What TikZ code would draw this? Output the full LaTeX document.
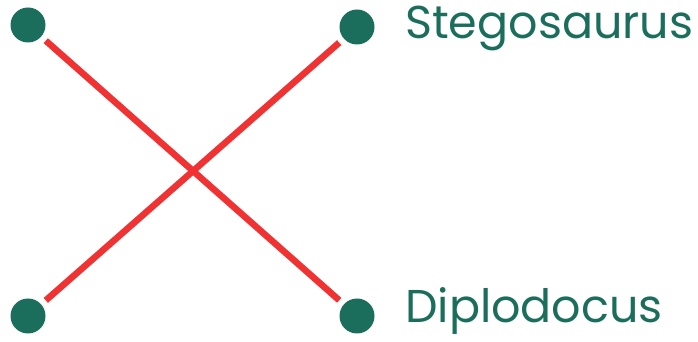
\documentclass[tikz,border=0pt]{standalone}
\usepackage{fontspec}
\setmainfont{Poppins}
\definecolor{dotgreen}{RGB}{28,110,92}
\definecolor{linered}{RGB}{240,50,50}
\begin{document}
\begin{tikzpicture}[x=1pt,y=1pt,
  dotnode/.style={circle,fill=dotgreen,draw=none,minimum size=35pt,inner sep=0pt},
  link/.style={linered,line width=6.5pt,shorten <=6pt,shorten >=6pt},
  label/.style={anchor=base west,inner sep=0pt,text=dotgreen,font=\fontsize{46}{50}\selectfont}]
\useasboundingbox (0,0) rectangle (698,342);
\node[dotnode] (tl) at (28,317) {};
\node[dotnode] (tr) at (357,315) {};
\node[dotnode] (bl) at (28,26) {};
\node[dotnode] (br) at (357,26) {};
\draw[link] (tl) -- (br);
\draw[link] (bl) -- (tr);
\node[label] (s) at (405,303) {Stegosaurus};
\node[label] (d) at (405,19) {Diplodocus};
\end{tikzpicture}
\end{document}
